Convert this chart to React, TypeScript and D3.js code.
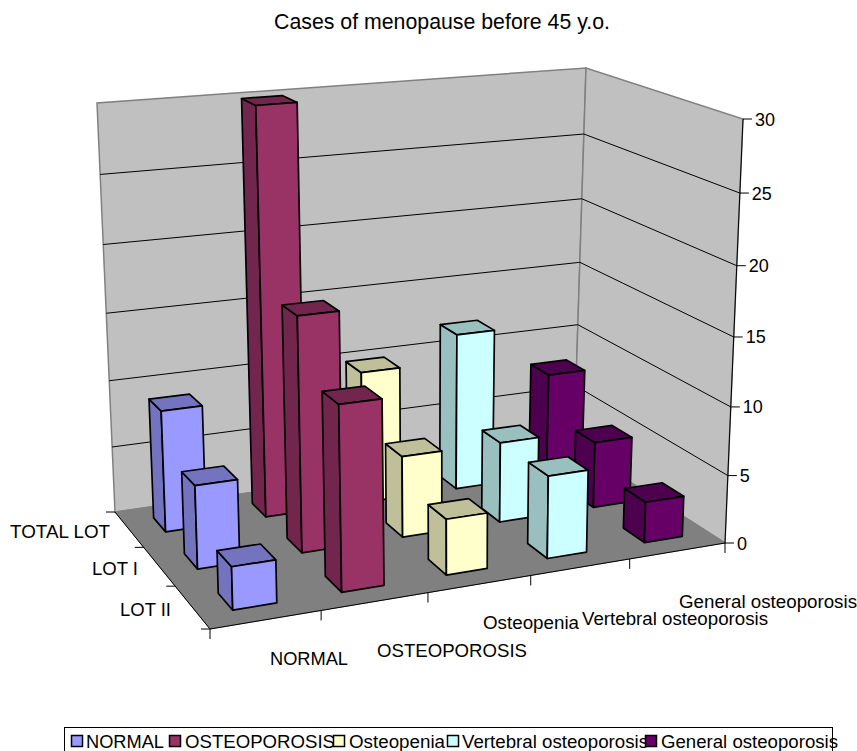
import React from "react";
import * as d3 from "d3";

const title = "Cases of menopause before 45 y.o.";
const categories = ["NORMAL", "OSTEOPOROSIS", "Osteopenia", "Vertebral osteoporosis", "General osteoporosis"];
const lots = ["LOT II", "LOT I", "TOTAL LOT"];
const totalLot = [9, 30, 10, 12, 8];
const lotOne = [6, 17, 6, 6, 5];
const lotTwo = [3, 13, 4, 6, 3];
const valueTicks = [0, 5, 10, 15, 20, 25, 30];
const colors = ["#9999FF", "#993366", "#FFFFCC", "#CCFFFF", "#660066"];
const seriesByLot: Record<string, number[]> = { "LOT II": lotTwo, "LOT I": lotOne, "TOTAL LOT": totalLot };

type Pt = [number, number];
// Screen corners of the plot cube: front-left, front-right, back-right, back-left
const floorQuad: Pt[] = [[210, 629], [725, 543], [574, 446], [115, 512]];
const topQuad: Pt[] = [[197, 163], [743, 119], [586, 68], [97, 103]];
const depthPersp = 1.058;

function homography(q: Pt[]) {
  const [[x0, y0], [x1, y1], [x2, y2], [x3, y3]] = q;
  const dx1 = x1 - x2, dx2 = x3 - x2, sx = x0 - x1 + x2 - x3;
  const dy1 = y1 - y2, dy2 = y3 - y2, sy = y0 - y1 + y2 - y3;
  const den = dx1 * dy2 - dx2 * dy1;
  const g = (sx * dy2 - dx2 * sy) / den;
  const h = (dx1 * sy - sx * dy1) / den;
  const a = x1 - x0 + g * x1, b = x3 - x0 + h * x3, c = x0;
  const d = y1 - y0 + g * y1, e = y3 - y0 + h * y3, f = y0;
  return (u: number, v: number): Pt => {
    const w = g * u + h * v + 1;
    return [(a * u + b * v + c) / w, (d * u + e * v + f) / w];
  };
}
const floorH = homography(floorQuad);
const topH = homography(topQuad);

const xBand = d3.scaleBand<string>().domain(categories).range([0, 1.005]).paddingInner(0.6).paddingOuter(0.3);
const yBand = d3.scaleBand<string>().domain(lots).range([0, 1]).paddingInner(0.6).paddingOuter(0.3);
const zScale = d3.scaleLinear().domain([0, 30]).range([0, 1]);

function project(u: number, v: number, value: number): Pt {
  const w = zScale(value);
  const t = w / (w + depthPersp * (1 - w));
  const a = floorH(u, v), b = topH(u, v);
  return [a[0] + (b[0] - a[0]) * t, a[1] + (b[1] - a[1]) * t];
}
const line = d3.line<Pt>();
const closed = (pts: Pt[]) => line(pts) + "Z";
const shade = (c: string) => {
  const r = d3.rgb(c);
  return d3.rgb(r.r * 0.75, r.g * 0.75, r.b * 0.75).formatHex();
};

const FONT = "'Liberation Sans', Arial, sans-serif";

const rowLabels = [
  { t: "TOTAL LOT", x: 10, y: 538, w: 100 },
  { t: "LOT I", x: 92, y: 575, w: 46 },
  { t: "LOT II", x: 120, y: 616, w: 51 },
];
const catLabels = [
  { t: categories[0], x: 270, y: 664.5, w: 78 },
  { t: categories[1], x: 377, y: 656.5, w: 150 },
  { t: categories[2], x: 483, y: 629, w: 96 },
  { t: categories[3], x: 582, y: 625, w: 186 },
  { t: categories[4], x: 679, y: 608, w: 178 },
];
const legendItems = [
  { swatch: 71, x: 86, w: 78 },
  { swatch: 169, x: 185, w: 150 },
  { swatch: 333, x: 349, w: 96 },
  { swatch: 447, x: 462, w: 186 },
  { swatch: 645, x: 661, w: 177 },
];

export default function App() {
  const rows = [...lots].reverse();
  const cats = [...categories].reverse();
  const wallBack = closed([project(0, 1, 0), project(1, 1, 0), project(1, 1, 30), project(0, 1, 30)]);
  const wallRight = closed([project(1, 1, 0), project(1, 0, 0), project(1, 0, 30), project(1, 1, 30)]);
  const floor = closed([project(0, 0, 0), project(1, 0, 0), project(1, 1, 0), project(0, 1, 0)]);

  return (
    <svg width={857} height={751} style={{ position: "absolute", left: 0, top: 0, background: "#fff" }} fontFamily={FONT} fontSize={18}>
      <text x={274} y={29} fontSize={21.3} textLength={336} lengthAdjust="spacingAndGlyphs">{title}</text>
      <path d={wallBack} fill="#C0C0C0" stroke="#808080" strokeWidth={1.5} />
      <path d={wallRight} fill="#C0C0C0" stroke="#808080" strokeWidth={1.5} />
      <path d={floor} fill="#808080" stroke="#808080" strokeWidth={1} />
      {valueTicks.slice(1, -1).map((v) => (
        <path key={v} d={line([project(0, 1, v), project(1, 1, v), project(1, 0, v)]) ?? ""} fill="none" stroke="#000" strokeWidth={1} />
      ))}
      {/* axes */}
      <path d={line([project(1, 0, 0), project(1, 0, 30)]) ?? ""} stroke="#000" strokeWidth={1} fill="none" />
      <path d={line([project(0, 1, 0), project(0, 0, 0), project(1, 0, 0)]) ?? ""} stroke="#000" strokeWidth={1} fill="none" />
      {valueTicks.map((v) => {
        const [x, y] = project(1, 0, v);
        return (
          <g key={v}>
            <line x1={x} y1={y} x2={x + 9} y2={y} stroke="#000" />
            <text x={x + 12} y={y + 6.5}>{v}</text>
          </g>
        );
      })}
      {d3.range(0, 6).map((i) => {
        const [x, y] = project(i / 5, 0, 0);
        return <line key={i} x1={x} y1={y} x2={x} y2={y + 10} stroke="#000" />;
      })}
      {d3.range(0, 4).map((i) => {
        const [x, y] = project(0, i / 3, 0);
        return <line key={i} x1={x} y1={y} x2={x - 9} y2={y} stroke="#000" />;
      })}
      {/* bars */}
      {rows.map((lot) =>
        cats.map((cat) => {
          const c = categories.indexOf(cat);
          const value = seriesByLot[lot][c];
          const u0 = xBand(cat)!, u1 = u0 + xBand.bandwidth();
          const v0 = yBand(lot)!, v1 = v0 + yBand.bandwidth();
          const col = colors[c], dark = shade(col);
          return (
            <g key={lot + cat} stroke="#000" strokeWidth={1.7} strokeLinejoin="round">
              <path d={closed([project(u0, v0, 0), project(u0, v1, 0), project(u0, v1, value), project(u0, v0, value)])} fill={dark} />
              <path d={closed([project(u0, v0, value), project(u0, v1, value), project(u1, v1, value), project(u1, v0, value)])} fill={dark} />
              <path d={closed([project(u0, v0, 0), project(u1, v0, 0), project(u1, v0, value), project(u0, v0, value)])} fill={col} />
            </g>
          );
        })
      )}
      {rowLabels.map((d) => (
        <text key={d.t} x={d.x} y={d.y} textLength={d.w} lengthAdjust="spacingAndGlyphs">{d.t}</text>
      ))}
      {catLabels.map((d) => (
        <text key={d.t} x={d.x} y={d.y} fontSize={18.7} textLength={d.w} lengthAdjust="spacingAndGlyphs">{d.t}</text>
      ))}
      {/* legend */}
      <rect x={64.5} y={727.5} width={768} height={30} fill="none" stroke="#000" />
      {categories.map((c, i) => (
        <g key={c}>
          <rect x={legendItems[i].swatch + 0.5} y={735.5} width={11} height={11} fill={colors[i]} stroke="#000" strokeWidth={1.5} />
          <text x={legendItems[i].x} y={748} fontSize={18.7} textLength={legendItems[i].w} lengthAdjust="spacingAndGlyphs">{c}</text>
        </g>
      ))}
    </svg>
  );
}
